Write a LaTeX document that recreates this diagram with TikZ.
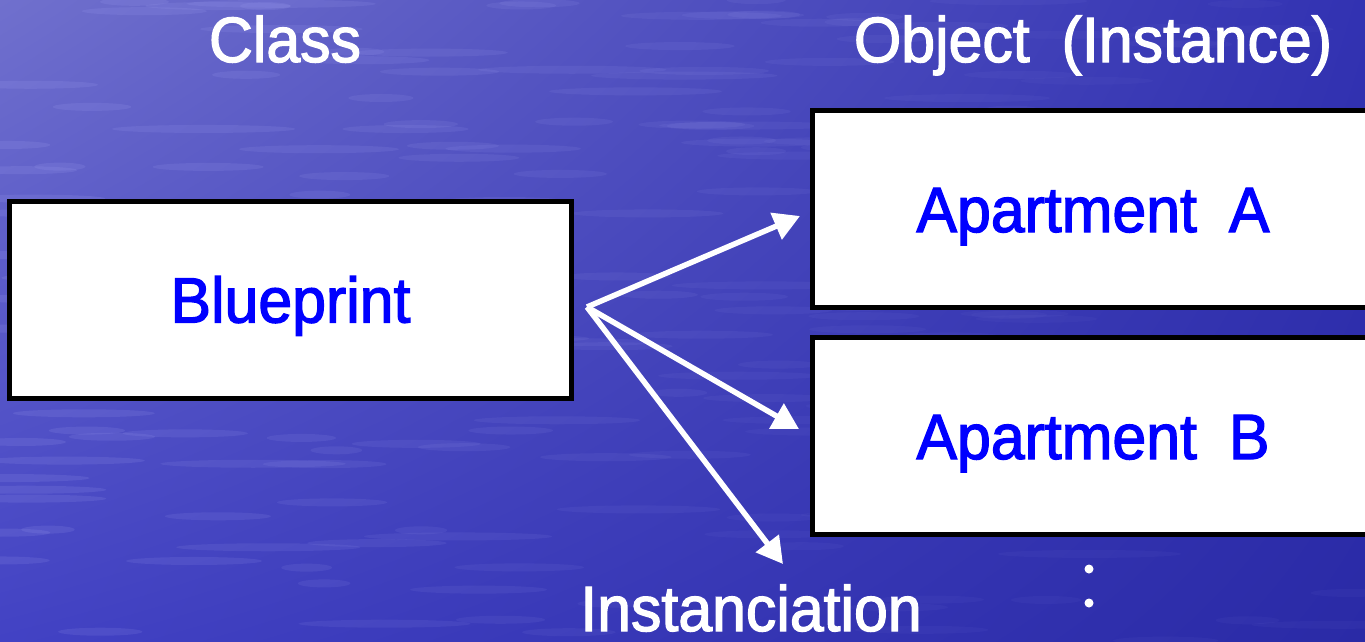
\documentclass[tikz,border=0pt]{standalone}
\usepackage{fontspec}
\setmainfont{Liberation Sans}[FakeStretch=0.95,FakeBold=2]
\usetikzlibrary{arrows.meta,shadings}
\definecolor{bgA}{RGB}{112,112,205}
\definecolor{bgB}{RGB}{50,50,178}
\definecolor{bgC}{RGB}{66,66,196}
\definecolor{bgD}{RGB}{42,42,166}
\definecolor{streak}{RGB}{150,150,235}
\definecolor{txtblue}{RGB}{0,0,255}
\tikzset{
  box/.style={draw=black, line width=5pt, fill=white, minimum width=562pt, minimum height=197pt,
    inner sep=0pt, text=txtblue, font=\fontsize{64}{70}\selectfont, text height=46pt, text depth=0pt},
  title/.style={text=white, font=\fontsize{64}{70}\selectfont, inner sep=0pt, anchor=base},
  flow/.style={draw=white, line width=5.5pt, -{Triangle[length=26pt,width=28pt]}},
  dot/.style={circle, fill=white, inner sep=0pt, minimum size=9pt}
}
\begin{document}
\begin{tikzpicture}[x=1pt,y=-1pt]
  \useasboundingbox (0,0) rectangle (1365,641);
  \shade[upper left=bgA, upper right=bgB, lower left=bgC, lower right=bgD] (0,0) rectangle (1365,641);
  \pgfmathsetseed{11}
  \foreach \i in {1,...,220}{
    \pgfmathsetmacro{\xx}{rnd*1365}
    \pgfmathsetmacro{\yy}{rnd*641}
    \pgfmathsetmacro{\ll}{25+rnd*70}
    \pgfmathsetmacro{\op}{max(0.05,0.22-0.00016*\xx-0.00008*\yy)}
    \fill[streak, opacity=\op] (\xx,\yy) ellipse [x radius=\ll pt, y radius=4pt];
  }
  \clip (0,0) rectangle (1365,641);
  \node[box] (bp) at (290.5,299.5) {Blueprint};
  \node[box] (aa) at (1093,209) {Apartment\enspace A};
  \node[box] (ab) at (1093,436) {Apartment\enspace B};
  \node[title] (cls) at (285,62) {Class};
  \node[title] (obj) at (1093,62) {Object\enspace(Instance)};
  \node[title] (inst) at (751,631) {Instanciation};
  \node[dot] (d1) at (1089,569) {};
  \node[dot] (d2) at (1089,603) {};
  \coordinate (o) at (587,307);
  \coordinate (t1) at (800,216);
  \coordinate (t2) at (799,429);
  \coordinate (t3) at (783,564);
  \draw[flow] (o) -- (t1);
  \draw[flow] (o) -- (t2);
  \draw[flow] (o) -- (t3);
\end{tikzpicture}
\end{document}
